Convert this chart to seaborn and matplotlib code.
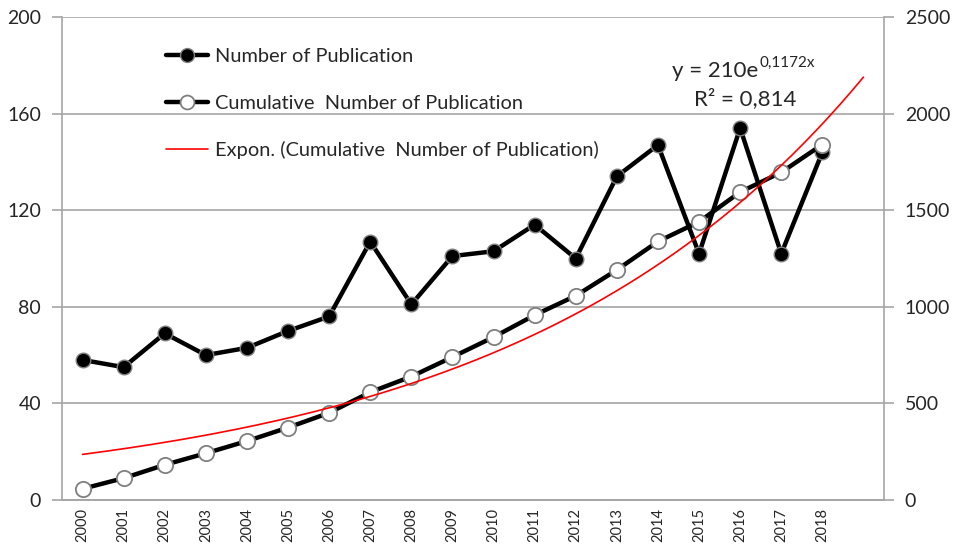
import numpy as np
import pandas as pd
import matplotlib
matplotlib.use("Agg")
import matplotlib.pyplot as plt
import seaborn as sns
from matplotlib.lines import Line2D

years = ["2000", "2001", "2002", "2003", "2004", "2005", "2006", "2007", "2008", "2009",
         "2010", "2011", "2012", "2013", "2014", "2015", "2016", "2017", "2018"]
publications = [58, 55, 69, 60, 63, 70, 76, 107, 81, 101, 103, 114, 100, 134, 147, 102, 154, 102, 144]
cumulative = [58, 113, 182, 242, 305, 375, 451, 558, 639, 740, 843, 957, 1057, 1191, 1338, 1440, 1594, 1696, 1840]
left_ticks = [0, 40, 80, 120, 160, 200]
right_ticks = [0, 500, 1000, 1500, 2000, 2500]
trend_a = 210.0      # displayed trendline coefficient
trend_b = 0.1172     # displayed trendline exponent
eq_base = "y = 210e"
eq_sup = "0,1172x"
r2_text = "R² = 0,814"

sns.set_style("white")
FONT = "Lato"
plt.rcParams["font.family"] = [FONT, "DejaVu Sans"]

df = pd.DataFrame({"pos": np.arange(len(years)), "pub": publications, "cum": cumulative})

# exponential trendline (Excel: x = 1..n, forecast forward 1 period)
tt = np.linspace(1, len(years) + 1, 200)
trend = pd.DataFrame({"pos": tt - 1, "val": trend_a * np.exp(trend_b * tt)})

fig = plt.figure(figsize=(9.54, 5.49), dpi=100)
ax = fig.add_axes([62 / 954, 1 - 500 / 549, (884 - 62) / 954, (500 - 17) / 549])
ax2 = ax.twinx()

grey = "#a6a6a6"
sns.lineplot(data=df, x="pos", y="pub", ax=ax, color="black", lw=3.2, marker="o",
             markersize=10.5, markerfacecolor="black", markeredgecolor="#7f7f7f",
             markeredgewidth=1.0, zorder=3)
sns.lineplot(data=df, x="pos", y="cum", ax=ax2, color="black", lw=3.2, marker="o",
             markersize=11, markerfacecolor="white", markeredgecolor="#7f7f7f",
             markeredgewidth=1.3, zorder=3)
sns.lineplot(data=trend, x="pos", y="val", ax=ax2, color="#ff0000", lw=1.2, zorder=4)

ax.set_xlim(-0.5, len(years) + 0.5)
ax.set_ylim(0, 200)
ax2.set_ylim(0, 2500)
ax.set_yticks(left_ticks)
ax2.set_yticks(right_ticks)
ax.set_xticks(np.arange(len(years)))
ax.set_xticklabels(years, rotation=90, fontsize=10.5)
ax.set_xticks(np.arange(-0.5, len(years) + 1), minor=True)
ax.tick_params(axis="x", which="major", length=0, pad=6)
ax.tick_params(axis="x", which="minor", length=5, color=grey, width=1.2, direction="out")
ax.tick_params(axis="y", labelsize=14, length=7, color=grey, width=1.2, direction="out", pad=8)
ax2.tick_params(axis="y", labelsize=14, length=7, color=grey, width=1.2, direction="out", pad=8)
for a in (ax, ax2):
    a.set_xlabel("")
    a.set_ylabel("")
ax.yaxis.grid(True, color=grey, lw=1.2)
ax.set_axisbelow(True)

for a in (ax, ax2):
    a.spines["top"].set_visible(False)
    for s in ("left", "right", "bottom"):
        a.spines[s].set_color(grey)
        a.spines[s].set_linewidth(1.2)
ax2.spines["left"].set_visible(False)
ax.spines["right"].set_visible(False)

handles = [
    Line2D([], [], color="black", lw=3.2, marker="o", markersize=10, markerfacecolor="black",
           markeredgecolor="#7f7f7f"),
    Line2D([], [], color="black", lw=3.2, marker="o", markersize=10, markerfacecolor="white",
           markeredgecolor="#7f7f7f", markeredgewidth=1.3),
    Line2D([], [], color="#ff0000", lw=1.2),
]
labels = ["Number of Publication", "Cumulative  Number of Publication",
          "Expon. (Cumulative  Number of Publication)"]
leg = ax2.legend(handles, labels, loc="upper left", bbox_to_anchor=(148 / 954, 1 - 30 / 549),
                 bbox_transform=fig.transFigure, frameon=False, fontsize=14.4,
                 labelspacing=1.48, handlelength=2.1, handletextpad=0.35)

fig.text(758 / 954, 1 - 77 / 549, eq_base, ha="right", va="baseline", fontsize=16)
fig.text(759 / 954, 1 - 67 / 549, eq_sup, ha="left", va="baseline", fontsize=11)
fig.text(745 / 954, 1 - 105 / 549, r2_text, ha="center", va="baseline", fontsize=16)

fig.savefig("out.png", dpi=100)
